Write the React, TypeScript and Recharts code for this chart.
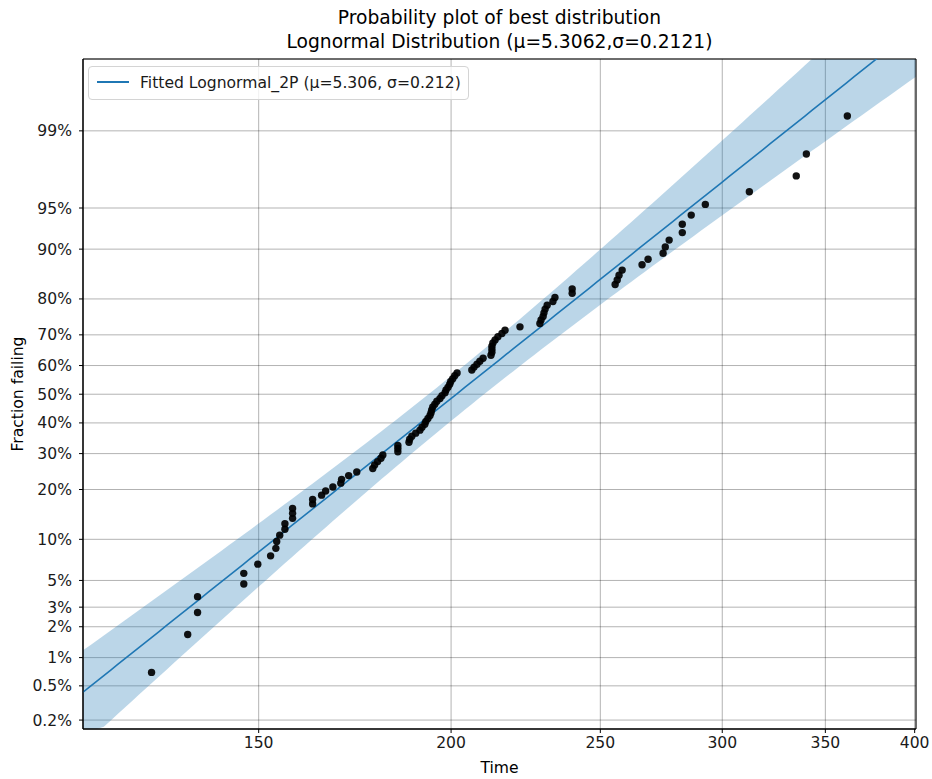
import React from "react";
import {
  Area,
  CartesianGrid,
  ComposedChart,
  Line,
  ReferenceArea,
  Scatter,
  XAxis,
  YAxis,
} from "recharts";

// failure times, in rank order
const failureTimes = [
  127.8, 134.9, 136.9, 136.9, 146.7, 146.7, 149.8, 152.7, 153.9, 154.1,
  154.8, 156.0, 156.0, 157.8, 157.8, 157.8, 162.6, 162.6, 164.8, 165.8,
  167.6, 169.6, 169.8, 171.6, 173.7, 177.9, 178.4, 179.2, 180.1, 180.6,
  184.7, 184.7, 184.7, 187.8, 188.0, 188.6, 189.7, 190.9, 191.5, 192.3,
  192.6, 193.2, 193.8, 194.1, 194.3, 194.6, 195.2, 195.8, 196.7, 197.3,
  198.2, 198.5, 199.1, 199.6, 199.9, 200.5, 201.1, 201.8, 206.3, 207.0,
  207.9, 208.8, 209.8, 212.3, 212.6, 212.6, 212.6, 212.9, 213.6, 214.5,
  215.8, 216.8, 221.7, 228.4, 228.8, 229.5, 229.8, 230.2, 230.9, 232.9,
  233.6, 239.7, 239.7, 255.6, 256.4, 257.1, 258.3, 266.1, 268.5, 274.6,
  275.5, 277.1, 282.6, 282.6, 286.4, 292.5, 312.4, 335.1, 340.2, 361.7,
];

// fraction failing (%) of each point
const fractionFailing = [
  0.7, 1.69, 2.69, 3.69, 4.68, 5.68, 6.67, 7.67, 8.67, 9.66,
  10.66, 11.65, 12.65, 13.65, 14.64, 15.64, 16.63, 17.63, 18.63, 19.62,
  20.62, 21.61, 22.61, 23.61, 24.6, 25.6, 26.59, 27.59, 28.59, 29.58,
  30.58, 31.57, 32.57, 33.57, 34.56, 35.56, 36.55, 37.55, 38.55, 39.54,
  40.54, 41.53, 42.53, 43.53, 44.52, 45.52, 46.51, 47.51, 48.51, 49.5,
  50.5, 51.49, 52.49, 53.49, 54.48, 55.48, 56.47, 57.47, 58.47, 59.46,
  60.46, 61.45, 62.45, 63.45, 64.44, 65.44, 66.43, 67.43, 68.43, 69.42,
  70.42, 71.41, 72.41, 73.41, 74.4, 75.4, 76.39, 77.39, 78.39, 79.38,
  80.38, 81.37, 82.37, 83.37, 84.36, 85.36, 86.35, 87.35, 88.35, 89.34,
  90.34, 91.33, 92.33, 93.33, 94.32, 95.32, 96.31, 97.31, 98.31, 99.3,
];

const timeTicks = [150, 200, 250, 300, 350, 400];
const percentTicks = [0.2, 0.5, 1, 2, 3, 5, 10, 20, 30, 40, 50, 60, 70, 80, 90, 95, 99];

// fitted lognormal
const MU = 5.3062;
const SIGMA = 0.2121;
const SAMPLE_SIZE = 100;
const Z_CI = 1.959964;

const X_MIN = Math.log(115.35);
const X_MAX = Math.log(400.8);
const Z_MIN = -2.957;
const Z_MAX = 2.961;

const BLUE = "#1f77b4";
const FONT = "'DejaVu Sans', sans-serif";
const LABEL_SIZE = 15.6;

// inverse normal CDF (Acklam)
function probit(p: number) {
  const a = [-39.69683028665376, 220.9460984245205, -275.9285104469687, 138.357751867269, -30.66479806614716, 2.506628277459239];
  const b = [-54.47609879822406, 161.5858368580409, -155.6989798598866, 66.80131188771972, -13.28068155288572];
  const c = [-0.007784894002430293, -0.3223964580411365, -2.400758277161838, -2.549732539343734, 4.374664141464968, 2.938163982698783];
  const d = [0.007784695709101559, 0.3224671290700398, 2.445134137142996, 3.754408661907416];
  const plow = 0.02425;
  if (p < plow) {
    const q = Math.sqrt(-2 * Math.log(p));
    return (((((c[0] * q + c[1]) * q + c[2]) * q + c[3]) * q + c[4]) * q + c[5]) /
      ((((d[0] * q + d[1]) * q + d[2]) * q + d[3]) * q + 1);
  }
  if (p > 1 - plow) {
    const q = Math.sqrt(-2 * Math.log(1 - p));
    return -(((((c[0] * q + c[1]) * q + c[2]) * q + c[3]) * q + c[4]) * q + c[5]) /
      ((((d[0] * q + d[1]) * q + d[2]) * q + d[3]) * q + 1);
  }
  const q = p - 0.5;
  const r = q * q;
  return ((((((a[0] * r + a[1]) * r + a[2]) * r + a[3]) * r + a[4]) * r + a[5]) * q) /
    (((((b[0] * r + b[1]) * r + b[2]) * r + b[3]) * r + b[4]) * r + 1);
}

const xTickValues = timeTicks.map((t) => Math.log(t));
const zTickValues = percentTicks.map((p) => probit(p / 100));

const points = failureTimes.map((t, i) => ({
  lx: Math.log(t),
  z: probit(fractionFailing[i] / 100),
}));

// confidence bounds on time (in log space)
const halfWidth = (z: number) => Z_CI * SIGMA * Math.sqrt((1 + (z * z) / 2) / SAMPLE_SIZE);
function edgeZ(x: number, side: number) {
  let lo = -8;
  let hi = 8;
  for (let i = 0; i < 60; i++) {
    const mid = (lo + hi) / 2;
    if (MU + mid * SIGMA + side * halfWidth(mid) > x) hi = mid;
    else lo = mid;
  }
  return (lo + hi) / 2;
}
const clampZ = (z: number) => Math.min(Z_MAX, Math.max(Z_MIN, z));

const STEPS = 120;
const curveRows = Array.from({ length: STEPS + 1 }, (_, i) => {
  const x = X_MIN + ((X_MAX - X_MIN) * i) / STEPS;
  return {
    lx: x,
    band: [clampZ(edgeZ(x, 1)), clampZ(edgeZ(x, -1))],
    fit: (x - MU) / SIGMA,
  };
});

const fmtTime = (v: number) => String(Math.round(Math.exp(v)));
const fmtPct = (v: number) => {
  let best = 0;
  zTickValues.forEach((z, i) => {
    if (Math.abs(z - v) < Math.abs(zTickValues[best] - v)) best = i;
  });
  return `${percentTicks[best]}%`;
};

const Dot = (props: any) => (
  <circle cx={props.cx} cy={props.cy} r={3.7} fill="#000" fillOpacity={0.92} />
);

export default function App() {
  const tickStyle = { fontSize: LABEL_SIZE, fill: "#1a1a1a", fontFamily: FONT };
  return (
    <div
      style={{
        position: "absolute",
        left: 0,
        top: 0,
        width: 932,
        height: 779,
        background: "#fff",
        fontFamily: FONT,
        color: "#000",
      }}
    >
      <ComposedChart
        width={932}
        height={779}
        data={curveRows}
        margin={{ top: 59, right: 16, bottom: 0, left: 0 }}
      >
        <Area
          dataKey="band"
          type="linear"
          stroke="none"
          fill={BLUE}
          fillOpacity={0.3}
          isAnimationActive={false}
          activeDot={false}
        />
        <CartesianGrid stroke="#000" strokeOpacity={0.3} horizontal vertical />
        <XAxis
          dataKey="lx"
          type="number"
          domain={[X_MIN, X_MAX]}
          ticks={xTickValues}
          tickFormatter={fmtTime}
          interval={0}
          allowDataOverflow
          height={50}
          tick={tickStyle}
          tickSize={4}
          tickMargin={4}
          stroke="#000"
        />
        <YAxis
          dataKey="z"
          type="number"
          domain={[Z_MIN, Z_MAX]}
          ticks={zTickValues}
          tickFormatter={fmtPct}
          interval={0}
          allowDataOverflow
          width={83}
          tick={tickStyle}
          tickSize={4}
          tickMargin={7}
          stroke="#000"
        />
        <Line
          dataKey="fit"
          type="linear"
          stroke={BLUE}
          strokeWidth={1.6}
          dot={false}
          activeDot={false}
          isAnimationActive={false}
        />
        <Scatter data={points} dataKey="z" shape={Dot} isAnimationActive={false} />
        <ReferenceArea
          x1={X_MIN}
          x2={X_MAX}
          y1={Z_MIN}
          y2={Z_MAX}
          fill="none"
          stroke="#000"
          strokeWidth={1}
          ifOverflow="visible"
        />
      </ComposedChart>

      <div
        style={{
          position: "absolute",
          left: 83,
          width: 833,
          top: 6,
          textAlign: "center",
          fontSize: 18.7,
          lineHeight: "24px",
        }}
      >
        <div>Probability plot of best distribution</div>
        <div>Lognormal Distribution (μ=5.3062,σ=0.2121)</div>
      </div>

      <div
        style={{
          position: "absolute",
          left: 88,
          top: 66,
          width: 381,
          height: 34,
          boxSizing: "border-box",
          border: "1px solid #d4d4d4",
          borderRadius: 4,
          background: "rgba(255,255,255,0.8)",
        }}
      >
        <div
          style={{
            position: "absolute",
            left: 8,
            top: 14,
            width: 32,
            height: 2,
            background: BLUE,
          }}
        />
        <div
          style={{
            position: "absolute",
            left: 51,
            top: 5,
            fontSize: LABEL_SIZE,
            lineHeight: "22px",
            whiteSpace: "nowrap",
            color: "#1a1a1a",
          }}
        >
          Fitted Lognormal_2P (μ=5.306, σ=0.212)
        </div>
      </div>

      <div
        style={{
          position: "absolute",
          left: 83,
          width: 833,
          top: 757,
          textAlign: "center",
          fontSize: LABEL_SIZE,
          lineHeight: "22px",
        }}
      >
        Time
      </div>

      <div
        style={{
          position: "absolute",
          left: 18,
          top: 394,
          transform: "translate(-50%, -50%) rotate(-90deg)",
          fontSize: LABEL_SIZE,
          lineHeight: "22px",
          whiteSpace: "nowrap",
        }}
      >
        Fraction failing
      </div>
    </div>
  );
}
